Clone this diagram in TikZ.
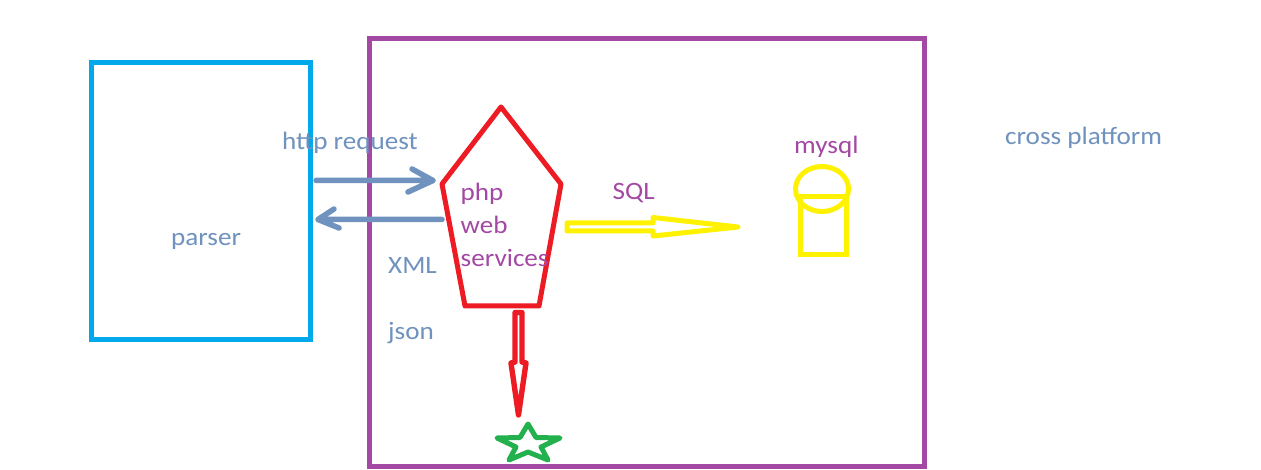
\documentclass[tikz,border=0pt]{standalone}
\usepackage{fontspec}
\setmainfont[FakeStretch=1.085]{Carlito}
\usetikzlibrary{shapes.geometric}
\definecolor{cblue}{HTML}{00A8EC}
\definecolor{cpurple}{HTML}{A349A4}
\definecolor{cred}{HTML}{ED1C24}
\definecolor{cgreen}{HTML}{22B14C}
\definecolor{cyel}{HTML}{FFF200}
\definecolor{cslate}{HTML}{7092BE}
\tikzset{
  slatetext/.style={text=cslate,font=\fontsize{25}{25}\selectfont,inner sep=0pt,anchor=base west},
  purpletext/.style={text=cpurple,font=\fontsize{25}{25}\selectfont,inner sep=0pt,anchor=base west},
  boxline/.style={line width=5pt,line join=miter,inner sep=0pt},
  penline/.style={line width=5pt,line join=round,line cap=round},
  arrline/.style={draw=cslate,line width=5.5pt,line cap=round,line join=round},
}
\begin{document}
\begin{tikzpicture}[x=1pt,y=-1pt]
\useasboundingbox (0,0) rectangle (1261,470);
\fill[white] (0,0) rectangle (1261,470);
% boxes
\node[draw=cblue,boxline,minimum width=219pt,minimum height=276pt] (parser) at (201,201) {};
\node[draw=cpurple,boxline,minimum width=555pt,minimum height=428.5pt] (frame) at (646.5,252.5) {};
% pentagon
\coordinate (pa) at (501,107);
\coordinate (pb) at (561,184);
\coordinate (pc) at (539,306);
\coordinate (pd) at (465,306);
\coordinate (pe) at (442,184);
\draw[cred,penline] (pa) -- (pb) -- (pc) -- (pd) -- (pe) -- cycle;
% blue arrows
\coordinate (r1) at (316,180.5);
\coordinate (r2) at (433,180.5);
\coordinate (r3) at (412,169);
\coordinate (r4) at (408,192);
\draw[arrline] (r1) -- (r2) (r3) -- (r2) -- (r4);
\coordinate (l1) at (442,219.5);
\coordinate (l2) at (318,219.5);
\coordinate (l3) at (334,209);
\coordinate (l4) at (339,228);
\draw[arrline] (l1) -- (l2) (l3) -- (l2) -- (l4);
% red arrow
\draw[cred,line width=5.4pt,line join=round] (515,362) -- (515,312.5) -- (522,312.5) -- (522,362) -- (526,363) -- (518.5,415) -- (511,363) -- cycle;
% star
\draw[cgreen,line width=5pt,line join=round] (528,424) -- (536,437.5) -- (560,438) -- (541,447) -- (548,460) -- (528,452) -- (509,460) -- (516,447) -- (497,438) -- (520,437.5) -- cycle;
% yellow arrow
\draw[cyel,line width=5pt,line join=round] (567,223) -- (653,223) -- (653,217.5) -- (738,227) -- (653,236) -- (653,231) -- (567,231) -- cycle;
% cylinder
\node[draw=cyel,line width=5pt,minimum width=46pt,minimum height=58pt,inner sep=0pt] (dbbody) at (823,226) {};
\node[draw=cyel,line width=5pt,ellipse,minimum width=53pt,minimum height=45pt,inner sep=0pt] (dbtop) at (822,189) {};
% labels
\node[slatetext] (t1) at (282,150) {http request};
\node[slatetext] (t2) at (171,246) {parser};
\node[slatetext] (t3) at (388,274) {XML};
\node[slatetext] (t4) at (388,339) {json};
\node[slatetext] (t5) at (1005,145) {cross platform};
\node[purpletext] (t6) at (460.5,200.5) {php};
\node[purpletext] (t7) at (460.5,233.5) {web};
\node[purpletext] (t8) at (460.5,266.5) {services};
\node[purpletext] (t9) at (612.5,199.5) {SQL};
\node[purpletext] (t10) at (794,153.5) {mysql};
\end{tikzpicture}
\end{document}
